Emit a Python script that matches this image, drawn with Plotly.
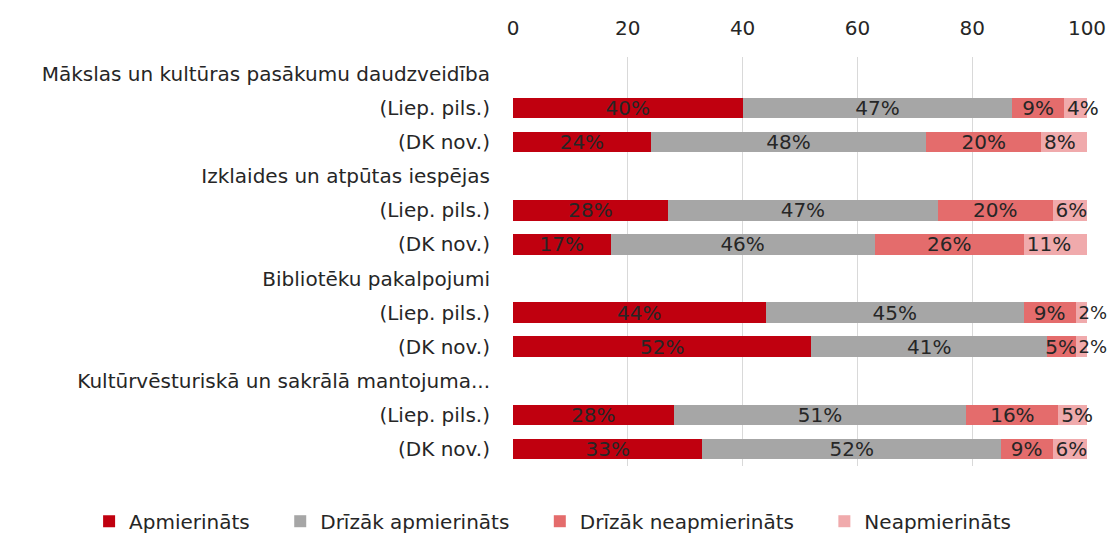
import plotly.graph_objects as go

row_labels = [
    "Mākslas un kultūras pasākumu daudzveidība",
    "(Liep. pils.)", "(DK nov.)",
    "Izklaides un atpūtas iespējas",
    "(Liep. pils.)", "(DK nov.)",
    "Bibliotēku pakalpojumi",
    "(Liep. pils.)", "(DK nov.)",
    "Kultūrvēsturiskā un sakrālā mantojuma...",
    "(Liep. pils.)", "(DK nov.)",
]

series_names = ["Apmierināts", "Drīzāk apmierināts", "Drīzāk neapmierināts", "Neapmierināts"]
colors = ["#C0000F", "#A6A6A6", "#E46C6C", "#F0AAAC"]

# values per row (None for group header rows)
apmierinats = [None, 40, 24, None, 27, 17, None, 44, 52, None, 28, 33]
drizak_apm = [None, 47, 48, None, 47, 46, None, 45, 41, None, 51, 52]
drizak_neapm = [None, 9, 20, None, 20, 26, None, 9, 5, None, 16, 9]
neapm = [None, 4, 8, None, 6, 11, None, 2, 2, None, 5, 6]

# printed labels
apm_text = ["", "40%", "24%", "", "28%", "17%", "", "44%", "52%", "", "28%", "33%"]
dapm_text = ["", "47%", "48%", "", "47%", "46%", "", "45%", "41%", "", "51%", "52%"]
dneapm_text = ["", "9%", "20%", "", "20%", "26%", "", "9%", "5%", "", "16%", "9%"]
neapm_text = ["", "4%", "8%", "", "6%", "11%", "", "2%", "2%", "", "5%", "6%"]

x_ticks = [0, 20, 40, 60, 80, 100]

values = [apmierinats, drizak_apm, drizak_neapm, neapm]
texts = [apm_text, dapm_text, dneapm_text, neapm_text]

ypos = list(range(len(row_labels)))
FONT = "DejaVu Sans"
FS = 20
PAD = "\u00a0" * 4

fig = go.Figure()
for i, (name, vals, txt, col) in enumerate(zip(series_names, values, texts, colors)):
    last = i == len(series_names) - 1
    if last:
        # labels of the thinnest end segments start at the segment and may run past it
        sizes = [FS - 2 if (v is not None and v <= 2) else FS for v in vals]
        anchor = "start"
    else:
        sizes = FS
        anchor = "middle"
    fig.add_trace(go.Bar(
        name=name + PAD, y=ypos, x=vals, orientation="h",
        marker=dict(color=col, line=dict(width=0)),
        width=0.6,
        text=txt, textposition="inside", insidetextanchor=anchor,
        constraintext="none", textangle=0, cliponaxis=False,
        textfont=dict(family=FONT, size=sizes, color="#262626"),
        hoverinfo="skip",
    ))

fig.update_layout(
    barmode="stack",
    width=1107, height=535,
    margin=dict(l=513, r=20, t=57, b=69, autoexpand=False),
    paper_bgcolor="white", plot_bgcolor="white",
    font=dict(family=FONT, size=FS, color="#262626"),
    showlegend=True,
    legend=dict(
        orientation="h", traceorder="normal",
        xref="paper", yref="paper",
        x=-0.7385, xanchor="left", y=-0.135, yanchor="middle",
        font=dict(family=FONT, size=FS, color="#262626"),
        itemwidth=30, tracegroupgap=0,
    ),
    xaxis=dict(
        side="top", range=[0, 100], tickvals=x_ticks,
        showgrid=True, gridcolor="#D9D9D9", gridwidth=1,
        zeroline=False, showline=False, ticks="",
        ticklabelstandoff=17, automargin=False,
        tickfont=dict(family=FONT, size=FS, color="#262626"),
        fixedrange=True,
    ),
    yaxis=dict(
        range=[11.5, -0.5], tickvals=ypos, ticktext=row_labels,
        showgrid=False, zeroline=False, showline=False, ticks="",
        ticklabelstandoff=22, automargin=False,
        tickfont=dict(family=FONT, size=FS, color="#262626"),
        fixedrange=True,
    ),
)

# remove the default page margin so the figure fills the window exactly
fig.write_html(
    "out.html",
    config={"displayModeBar": False},
    post_script="document.body.style.margin='0';document.body.style.overflow='hidden';",
)
